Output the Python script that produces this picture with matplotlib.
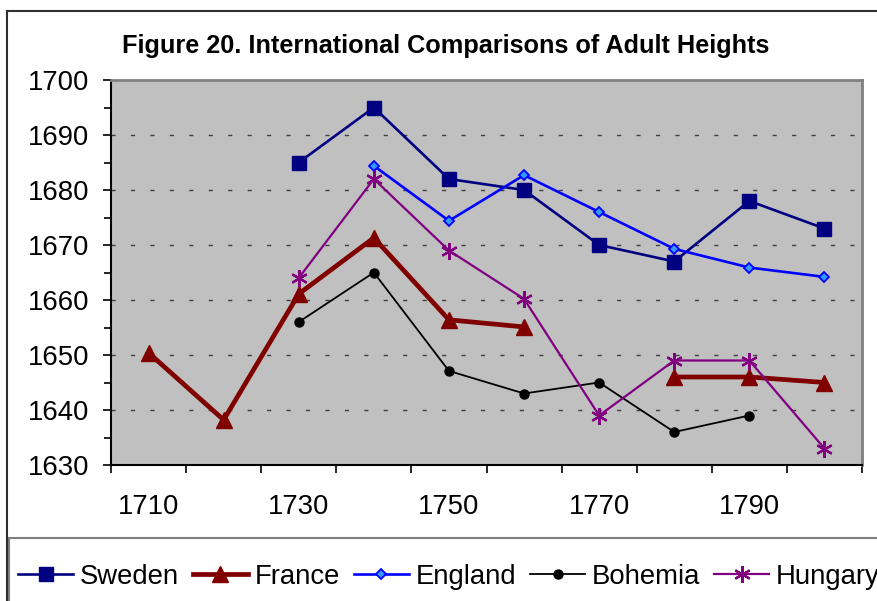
import numpy as np
import matplotlib
matplotlib.use("Agg")
import matplotlib.pyplot as plt
from matplotlib.lines import Line2D
from matplotlib.patches import Rectangle

plt.rcParams['font.family'] = ['Liberation Sans', 'DejaVu Sans']

years = [1710, 1720, 1730, 1740, 1750, 1760, 1770, 1780, 1790, 1800]
year_labels = ["1710", "1730", "1750", "1770", "1790"]
nan = np.nan
sweden = [nan, nan, 1685, 1695, 1682, 1680, 1670, 1667, 1678, 1673]
france = [1650.4, 1638.2, 1661.1, 1671.3, 1656.4, 1655.1, nan, 1646, 1646, 1645]
england = [nan, nan, nan, 1684.4, 1674.4, 1682.7, 1676, 1669.3, 1665.9, 1664.2]
bohemia = [nan, nan, 1656, 1665, 1647.1, 1643, 1645, 1636, 1639, nan]
hungary = [nan, nan, 1664, 1682, 1669, 1660.2, 1639, 1649, 1649, 1633]
series_names = ["Sweden", "France", "England", "Bohemia", "Hungary"]
title = "Figure 20. International Comparisons of Adult Heights"

W, H = 877, 601
fig = plt.figure(figsize=(W / 100, H / 100), dpi=100)
fig.patch.set_facecolor('white')

def fx(px):
    return px / W

def fy(py):
    return 1 - py / H

left, right, top, bottom = 111, 862, 80, 465
ax = fig.add_axes([fx(left), fy(bottom), fx(right - left), (bottom - top) / H])
ax.set_facecolor('#C0C0C0')

x = np.arange(len(years))
star = (6, 2, 0)
styles = [
    dict(color='#000080', lw=1.9, marker='s', ms=10.5, mfc='#000080', mec='#000080'),
    dict(color='#800000', lw=3.4, marker='^', ms=11, mfc='#800000', mec='#800000'),
    dict(color='#0000FF', lw=1.9, marker='D', ms=5.0, mfc='#3399FF', mec='#0000FF', mew=1.3),
    dict(color='#000000', lw=1.3, marker='o', ms=6.5, mfc='#000000', mec='#000000'),
    dict(color='#800080', lw=1.6, marker=star, ms=12, mfc='#800080', mec='#800080', mew=1.6),
]
data = [sweden, france, england, bohemia, hungary]
handles = []
for name, vals, st in zip(series_names, data, styles):
    ln, = ax.plot(x, np.array(vals, dtype=float), label=name, clip_on=False, **st)
    handles.append(ln)

ax.set_xlim(-0.5, len(years) - 0.5)
ax.set_ylim(1630, 1700)
ax.set_yticks(np.arange(1630, 1701, 10))
ax.set_yticks(np.arange(1635, 1700, 10), minor=True)
ax.tick_params(axis='y', which='major', length=5.5, width=1.2, direction='out',
               labelsize=19.8, pad=10, color='black')
ax.tick_params(axis='y', which='minor', length=5, width=1.2, direction='out', color='black')

ax.set_xticks(np.arange(-0.5, len(years), 1))
ax.set_xticklabels([])
ax.set_xticks([years.index(int(l)) for l in year_labels], minor=True)
ax.set_xticklabels(year_labels, minor=True)
ax.tick_params(axis='x', which='major', length=6, width=1.2, direction='out', color='black')
ax.tick_params(axis='x', which='minor', length=0, labelsize=19.8, pad=21)

for yv in range(1640, 1700, 10):
    ax.axhline(yv, color='#404040', lw=1.0, linestyle=(0, (3, 11)), zorder=0.5)

for side in ['top', 'right']:
    ax.spines[side].set_color('#808080')
    ax.spines[side].set_linewidth(2)
for side in ['left', 'bottom']:
    ax.spines[side].set_color('black')
    ax.spines[side].set_linewidth(1.5)

fig.text(fx(446), fy(53), title, ha='center', va='baseline',
         fontsize=18.2, fontweight='bold')

# outer chart border
fig.add_artist(Line2D([fx(7), fx(7)], [fy(11), fy(610)], color='#303030', lw=1.5))
fig.add_artist(Line2D([fx(7), fx(890)], [fy(11), fy(11)], color='#303030', lw=1.5))

# legend frame
fig.add_artist(Rectangle((fx(9), fy(620)), fx(900), (620 - 538) / H,
                         transform=fig.transFigure, fill=False, ec='#808080', lw=1.5))

leg = fig.legend(handles=handles, loc='center left', ncol=5,
                 bbox_to_anchor=(fx(18), fy(577)), bbox_transform=fig.transFigure,
                 frameon=False, fontsize=19.8, handlelength=2.0, handletextpad=0.25,
                 columnspacing=0.5, borderpad=0, borderaxespad=0, numpoints=1)

fig.savefig('out.png', dpi=100)
